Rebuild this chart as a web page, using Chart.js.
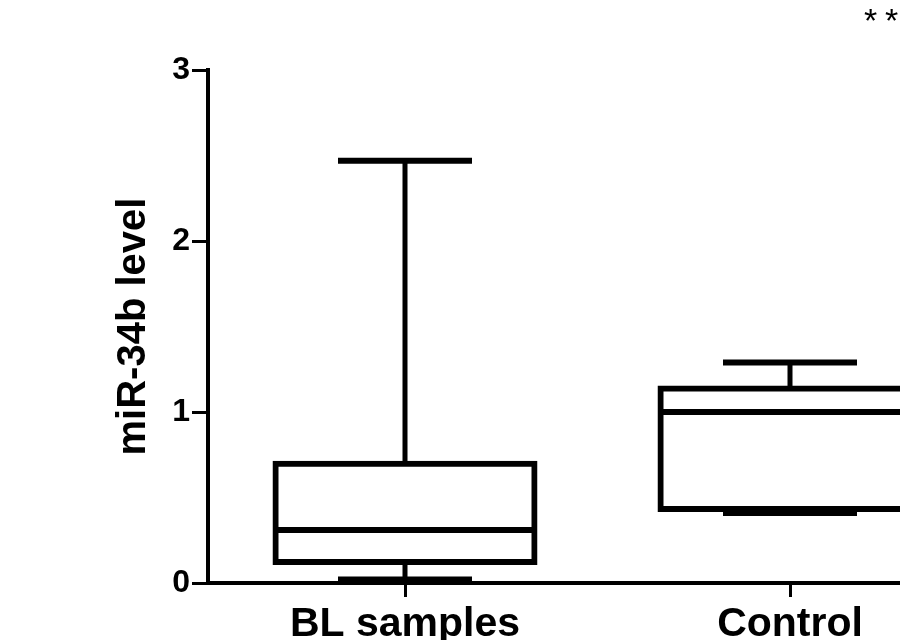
<!DOCTYPE html>
<html>
<head>
<meta charset="utf-8">
<script src="https://cdn.jsdelivr.net/npm/chart.js@4.4.1/dist/chart.umd.min.js"></script>
<style>
  html, body { margin: 0; padding: 0; background: #fff; overflow: hidden; }
  #wrap { width: 1100px; height: 640px; }
</style>
</head>
<body>
<div id="wrap"><canvas id="chart"></canvas></div>
<script>
const groups = ["BL samples", "Control"];
const whiskerMax = [2.47, 1.29];
const q3 = [0.70, 1.14];
const median = [0.31, 1.00];
const q1 = [0.12, 0.43];
const whiskerMin = [0.02, 0.41];
const yTicks = [0, 1, 2, 3];
const significance = ["*", "*"];

const FONT = '"Liberation Sans", Arial, sans-serif';

// medians, whiskers and caps on top of the floating-bar boxes
const boxExtras = {
  id: "boxExtras",
  afterDatasetsDraw(chart) {
    const ctx = chart.ctx;
    const xs = chart.scales.x;
    const ys = chart.scales.y;
    ctx.save();
    ctx.strokeStyle = "#000";
    ctx.lineCap = "butt";
    groups.forEach((g, i) => {
      const x = xs.getPixelForValue(i);
      // median
      ctx.lineWidth = 6;
      ctx.beginPath();
      ctx.moveTo(x - 130, ys.getPixelForValue(median[i]));
      ctx.lineTo(x + 130, ys.getPixelForValue(median[i]));
      ctx.stroke();
      // whiskers
      ctx.lineWidth = 5;
      ctx.beginPath();
      ctx.moveTo(x, ys.getPixelForValue(q3[i]));
      ctx.lineTo(x, ys.getPixelForValue(whiskerMax[i]));
      ctx.moveTo(x, ys.getPixelForValue(q1[i]));
      ctx.lineTo(x, ys.getPixelForValue(whiskerMin[i]));
      ctx.stroke();
      // caps
      ctx.lineWidth = 6;
      ctx.beginPath();
      ctx.moveTo(x - 67, ys.getPixelForValue(whiskerMax[i]));
      ctx.lineTo(x + 67, ys.getPixelForValue(whiskerMax[i]));
      ctx.moveTo(x - 67, ys.getPixelForValue(whiskerMin[i]));
      ctx.lineTo(x + 67, ys.getPixelForValue(whiskerMin[i]));
      ctx.stroke();
    });
    ctx.restore();
  },
  afterDraw(chart) {
    const ctx = chart.ctx;
    ctx.save();
    ctx.fillStyle = "#000";
    ctx.font = "34px " + FONT;
    ctx.textBaseline = "top";
    ctx.textAlign = "left";
    significance.forEach((s, i) => ctx.fillText(s, 864 + i * 21, 6));
    ctx.restore();
  }
};

new Chart(document.getElementById("chart"), {
  type: "bar",
  data: {
    datasets: [
      {
        data: groups.map((g, i) => ({ x: i, y: [q1[i], q3[i]] })),
        backgroundColor: "rgba(0,0,0,0)",
        borderColor: "#000",
        borderWidth: 1,
        inflateAmount: 2.5,
        borderSkipped: false,
        barThickness: 260,
      },
    ],
  },
  options: {
    responsive: true,
    maintainAspectRatio: false,
    animation: false,
    layout: { padding: { top: 70, left: 0, right: 0, bottom: 0 } },
    plugins: {
      legend: { display: false },
      tooltip: { enabled: false },
    },
    scales: {
      x: {
        type: "linear",
        min: -0.5117,
        max: 1.8052,
        offset: false,
        afterBuildTicks: (scale) => {
          scale.ticks = groups.map((g, i) => ({ value: i }));
        },
        afterFit: (scale) => {
          scale.height = 57;
        },
        ticks: {
          callback: (v) => groups[v],
          color: "#000",
          font: { family: FONT, size: 41, weight: "bold" },
          padding: 3,
          maxRotation: 0,
          autoSkip: false,
        },
        grid: {
          offset: false,
          drawOnChartArea: false,
          tickLength: 14,
          tickWidth: 3,
          tickColor: "#000",
        },
        border: { color: "#000", width: 4 },
      },
      y: {
        min: 0,
        max: 3,
        afterBuildTicks: (scale) => {
          scale.ticks = yTicks.map((v) => ({ value: v }));
        },
        afterFit: (scale) => {
          scale.width = 208;
        },
        ticks: {
          color: "#000",
          font: { family: FONT, size: 32, weight: "bold" },
          padding: 2,
        },
        grid: {
          drawOnChartArea: false,
          tickLength: 16,
          tickWidth: 3,
          tickColor: "#000",
        },
        border: { color: "#000", width: 4 },
        title: {
          display: true,
          text: "miR-34b level",
          color: "#000",
          font: { family: FONT, size: 40, weight: "bold" },
          padding: { top: 110, bottom: 0 },
        },
      },
    },
  },
  plugins: [boxExtras],
});
</script>
</body>
</html>
